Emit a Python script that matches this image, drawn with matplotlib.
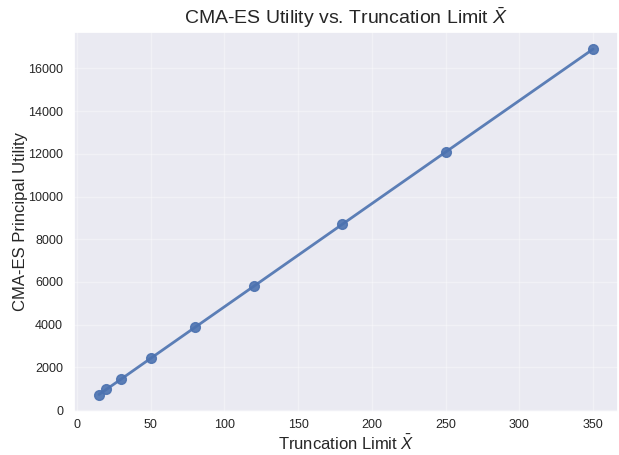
import matplotlib
matplotlib.use('Agg')
import matplotlib.pyplot as plt
import seaborn as sns

sns.set_theme(style='darkgrid')
plt.rcParams['font.family'] = ['Liberation Sans', 'DejaVu Sans']
plt.rcParams['mathtext.fontset'] = 'custom'
plt.rcParams['mathtext.rm'] = 'Liberation Sans'
plt.rcParams['mathtext.it'] = 'Liberation Sans:italic'

# data
trunc_limit = [15, 20, 30, 50, 80, 120, 180, 250, 350]
utility = [730, 970, 1450, 2420, 3870, 5800, 8700, 12080, 16900]

fig, ax = plt.subplots(figsize=(6.19, 4.55), dpi=100)
ax.plot(trunc_limit, utility, '-o', color='#4C72B0', lw=2, ms=7, alpha=0.9)

ax.grid(True, alpha=0.35)
ax.set_title(r'CMA-ES Utility vs. Truncation Limit $\bar{X}$', fontsize=14, pad=6)
ax.set_xlabel(r'Truncation Limit $\bar{X}$', fontsize=12, labelpad=2)
ax.set_ylabel('CMA-ES Principal Utility', fontsize=12, labelpad=0)
ax.tick_params(labelsize=9, length=0)
ax.tick_params(axis='x', pad=5)
ax.tick_params(axis='y', pad=8)

fig.subplots_adjust(left=0.12, right=0.998, bottom=0.095, top=0.93)
fig.savefig('out.png', dpi=100)
